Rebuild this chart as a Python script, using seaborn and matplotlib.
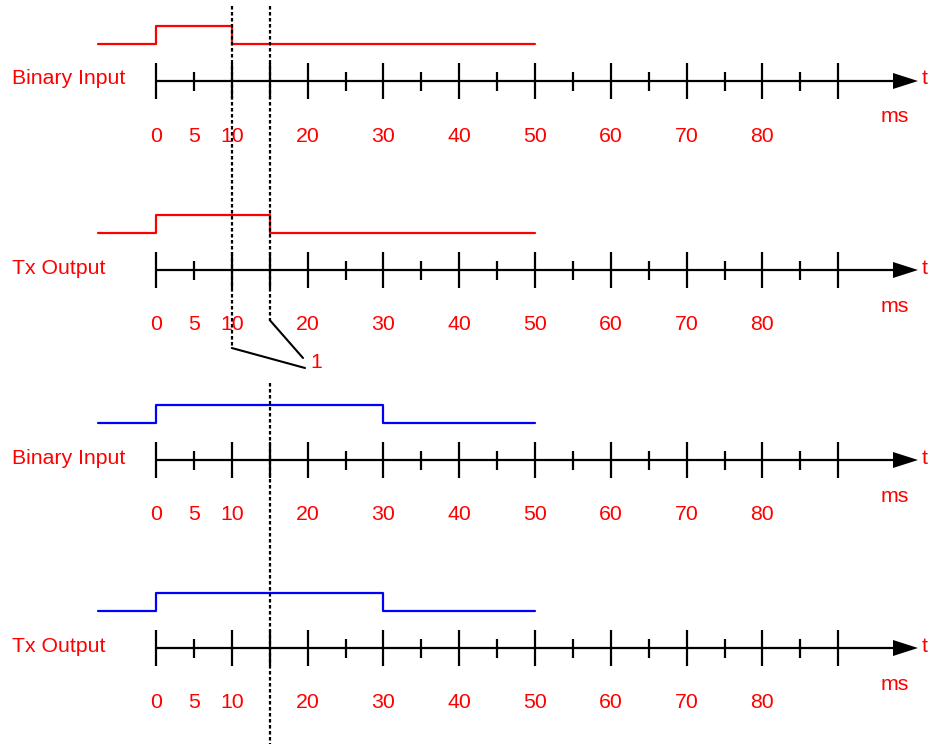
import numpy as np
import pandas as pd
import matplotlib
matplotlib.use("Agg")
import matplotlib.pyplot as plt
import seaborn as sns

# --- chart data ---
panel_labels = ["Binary Input", "Tx Output", "Binary Input", "Tx Output"]
signal_colors = ["#ff0000", "#ff0000", "#0000ff", "#0000ff"]
pulse_start = [0, 0, 0, 0]
pulse_end = [10, 15, 30, 30]
signal_begin = -7.6
signal_finish = 50
axis_rows = [81, 270, 460, 648]          # baseline of each time axis (px from top)
tick_values = [0, 5, 10, 15, 20, 25, 30, 35, 40, 45, 50, 55, 60, 65, 70, 75, 80, 85, 90]
long_ticks = [0, 10, 15, 20, 30, 40, 50, 60, 70, 80, 90]
tick_labels = [0, 5, 10, 20, 30, 40, 50, 60, 70, 80]
marker_times = [10, 15]                  # dotted reference lines in the top half
marker_note = "1"

# --- geometry ---
px_per_ms = 7.58
x0_px = 156
W, H = 931, 744

sns.set_theme(style="white")
plt.rcParams["font.family"] = ["Liberation Sans", "DejaVu Sans"]

fig = plt.figure(figsize=(W / 100, H / 100), dpi=100)
ax = fig.add_axes([0, 0, 1, 1])
ax.set_xlim(-x0_px / px_per_ms, (W - x0_px) / px_per_ms)
ax.set_ylim(H, 0)
ax.axis("off")

def ms(px):
    return (px - x0_px) / px_per_ms

red = "#ff0000"
fs = 15.3

for label, color, t_on, t_off, ay in zip(panel_labels, signal_colors, pulse_start, pulse_end, axis_rows):
    # signal waveform
    sig = pd.DataFrame({
        "t": [signal_begin, t_on, t_off, signal_finish],
        "level": [0, 1, 0, 0],
    })
    sig["y"] = ay - 37 - 18 * sig["level"]
    sns.lineplot(data=sig, x="t", y="y", drawstyle="steps-post", sort=False,
                 color=color, lw=1.6, ax=ax, legend=False)

    # time axis with arrow
    ax.plot([0, ms(897)], [ay, ay], color="black", lw=1.6, solid_capstyle="butt")
    ax.fill([ms(893), ms(918), ms(893)], [ay - 8, ay, ay + 8], color="black", lw=0)
    for tv in tick_values:
        half = 18 if tv in long_ticks else 9.5
        ax.plot([tv, tv], [ay - half, ay + half], color="black", lw=1.6,
                solid_capstyle="butt")
    for tl in tick_labels:
        ax.text(tl, ay + 55, str(tl), color=red, fontsize=fs, ha="center", va="center")

    ax.text(ms(12), ay - 2, label, color=red, fontsize=fs, ha="left", va="center")
    ax.text(ms(895), ay + 36, "ms", color=red, fontsize=fs, ha="center", va="center")
    ax.text(ms(922), ay - 2, "t", color=red, fontsize=fs, ha="left", va="center")

# dotted reference lines and annotation
dot = dict(color="black", lw=1.6, dashes=(1.6, 1.1))
ax.plot([marker_times[0]] * 2, [6, 348], **dot)
ax.plot([marker_times[1]] * 2, [6, 320], **dot)
ax.plot([marker_times[1]] * 2, [383, H], **dot)
ax.plot([marker_times[0], ms(305)], [348, 368], color="black", lw=1.5)
ax.plot([marker_times[1], ms(303)], [320, 358], color="black", lw=1.5)
ax.text(ms(310), 362, marker_note, color=red, fontsize=fs, ha="left", va="center")

fig.savefig("out.png", dpi=100, facecolor="white")
